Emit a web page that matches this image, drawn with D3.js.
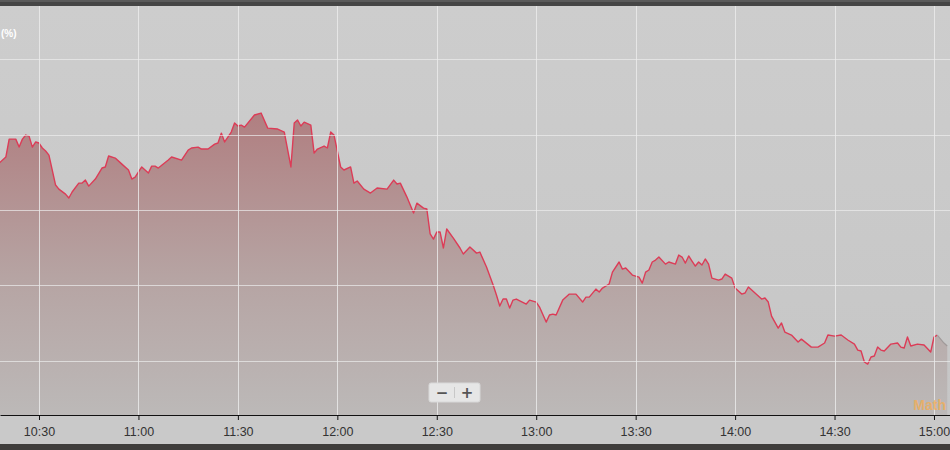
<!DOCTYPE html>
<html>
<head>
<meta charset="utf-8">
<script src="https://cdn.jsdelivr.net/npm/d3@7/dist/d3.min.js"></script>
<style>
  html, body { margin: 0; padding: 0; background: #c9c9c9; }
  svg { display: block; }
</style>
</head>
<body>
<svg id="chart" width="950" height="450"></svg>
<script>
// ---- data ----
const times = ["10:18","10:20","10:21","10:23","10:24","10:25","10:26","10:27","10:28","10:29",
  "10:30","10:31","10:32","10:33","10:35","10:36","10:38","10:39","10:40","10:42",
  "10:43","10:44","10:45","10:47","10:49","10:50","10:51","10:53","10:55","10:57",
  "10:58","10:59","11:01","11:03","11:04","11:05","11:06","11:09","11:10","11:13",
  "11:15","11:16","11:18","11:19","11:21","11:23","11:24","11:25","11:26","11:28",
  "11:29","11:30","11:31","11:32","11:35","11:37","11:39","11:42","11:44","11:46",
  "11:47","11:48","11:49","11:50","11:52","11:53","11:54","11:56","11:57","11:58",
  "11:59","12:01","12:02","12:04","12:05","12:06","12:08","12:10","12:12","12:15",
  "12:17","12:18","12:19","12:21","12:23","12:24","12:26","12:27","12:28","12:29",
  "12:30","12:31","12:32","12:33","12:35","12:37","12:38","12:40","12:42","12:43",
  "12:45","12:47","12:48","12:49","12:50","12:51","12:52","12:53","12:54","12:57",
  "12:58","13:00","13:01","13:03","13:04","13:05","13:06","13:08","13:10","13:12",
  "13:14","13:15","13:16","13:18","13:19","13:20","13:22","13:23","13:25","13:26",
  "13:27","13:29","13:31","13:32","13:33","13:34","13:35","13:36","13:37","13:39",
  "13:40","13:42","13:43","13:44","13:45","13:46","13:47","13:48","13:49","13:50",
  "13:51","13:52","13:53","13:55","13:56","13:57","13:59","14:00","14:02","14:03",
  "14:04","14:06","14:08","14:09","14:10","14:11","14:13","14:14","14:15","14:17",
  "14:19","14:20","14:23","14:25","14:27","14:28","14:30","14:32","14:34","14:36",
  "14:37","14:38","14:39","14:40","14:41","14:42","14:43","14:44","14:45","14:47",
  "14:49","14:50","14:51","14:52","14:53","14:55","14:57","14:59","15:00","15:01"];
const changePct = [0.312,0.352,0.471,0.471,0.418,0.471,0.498,0.491,0.418,0.452,
  0.445,0.412,0.392,0.365,0.166,0.139,0.106,0.080,0.120,0.179,
  0.179,0.199,0.159,0.206,0.279,0.286,0.359,0.345,0.305,0.266,
  0.206,0.219,0.286,0.246,0.292,0.292,0.279,0.332,0.352,0.332,
  0.398,0.412,0.418,0.405,0.405,0.438,0.445,0.511,0.452,0.518,
  0.578,0.558,0.564,0.551,0.631,0.644,0.544,0.538,0.518,0.286,
  0.578,0.598,0.558,0.584,0.564,0.378,0.405,0.425,0.412,0.518,
  0.498,0.286,0.266,0.286,0.179,0.193,0.139,0.113,0.146,0.139,
  0.199,0.173,0.179,0.086,-0.020,0.046,0.013,0.007,-0.159,-0.193,
  -0.146,-0.146,-0.252,-0.126,-0.186,-0.252,-0.292,-0.246,-0.286,-0.279,
  -0.378,-0.498,-0.564,-0.637,-0.591,-0.591,-0.651,-0.598,-0.591,-0.624,
  -0.598,-0.611,-0.644,-0.744,-0.697,-0.691,-0.697,-0.598,-0.558,-0.558,
  -0.611,-0.578,-0.578,-0.525,-0.544,-0.518,-0.491,-0.412,-0.345,-0.392,
  -0.385,-0.432,-0.445,-0.485,-0.412,-0.398,-0.345,-0.332,-0.312,-0.359,
  -0.345,-0.359,-0.299,-0.312,-0.352,-0.305,-0.339,-0.372,-0.345,-0.365,
  -0.325,-0.359,-0.452,-0.465,-0.458,-0.425,-0.452,-0.518,-0.558,-0.551,
  -0.511,-0.551,-0.591,-0.584,-0.611,-0.704,-0.784,-0.750,-0.810,-0.830,
  -0.876,-0.857,-0.910,-0.910,-0.883,-0.830,-0.837,-0.830,-0.863,-0.890,
  -0.930,-0.936,-1.009,-1.023,-0.976,-0.969,-0.910,-0.930,-0.936,-0.890,
  -0.883,-0.910,-0.916,-0.843,-0.903,-0.890,-0.896,-0.943,-0.843,-0.830];
// trailing (greyed) part after the close
const tailTimes = ["15:01","15:03","15:04"];
const tailPct = [-0.830,-0.883,-0.903];
const tickLabels = ["10:30","11:00","11:30","12:00","12:30","13:00","13:30","14:00","14:30","15:00"];
const gridValues = [-1.0,-0.5,0,0.5,1.0];

// ---- helpers ----
const toMin = s => { const [h,m] = s.split(":").map(Number); return h*60+m; };
const data = times.map((t,i) => ({m: toMin(t), v: changePct[i]}));
const tail = tailTimes.map((t,i) => ({m: toMin(t), v: tailPct[i]}));

const W = 950, H = 450;
const plotTop = 6, axisY = 415;
const svg = d3.select("#chart");

const x = d3.scaleLinear().domain([618.235, 904.83]).range([0, W]);
const y = d3.scaleLinear().domain([-1.361, 1.355]).range([axisY, plotTop]);

const defs = svg.append("defs");
const bg = defs.append("linearGradient").attr("id","bg").attr("x1",0).attr("y1",0).attr("x2",0).attr("y2",1);
bg.append("stop").attr("offset","0%").attr("stop-color","#cdcdcd");
bg.append("stop").attr("offset","100%").attr("stop-color","#c6c6c6");
const ag = defs.append("linearGradient").attr("id","areaGrad").attr("gradientUnits","userSpaceOnUse")
  .attr("x1",0).attr("y1",110).attr("x2",0).attr("y2",axisY);
ag.append("stop").attr("offset","0%").attr("stop-color","#b07e80");
ag.append("stop").attr("offset","55%").attr("stop-color","#b6a4a3");
ag.append("stop").attr("offset","100%").attr("stop-color","#bcb9b8");
defs.append("clipPath").attr("id","plotClip").append("rect")
  .attr("x",0).attr("y",plotTop).attr("width",W).attr("height",axisY-plotTop);

// background
svg.append("rect").attr("x",0).attr("y",0).attr("width",W).attr("height",H).attr("fill","#c9c9c9");
svg.append("rect").attr("x",0).attr("y",plotTop).attr("width",W).attr("height",axisY-plotTop).attr("fill","url(#bg)");
// top dark bar
svg.append("rect").attr("x",0).attr("y",0).attr("width",W).attr("height",plotTop).attr("fill","#454545");
svg.append("rect").attr("x",0).attr("y",0).attr("width",W).attr("height",2).attr("fill","#5a5a5a");
// bottom dark band
svg.append("rect").attr("x",0).attr("y",444).attr("width",W).attr("height",6).attr("fill","#3f3d3b");

// area + lines
const plot = svg.append("g").attr("clip-path","url(#plotClip)");
const all = data.concat(tail.slice(1));
plot.append("path").datum(all)
  .attr("fill","url(#areaGrad)")
  .attr("d", d3.area().x(d=>x(d.m)).y0(axisY).y1(d=>y(d.v)));

// grid
const grid = svg.append("g");
grid.selectAll("line.h").data(gridValues).join("line")
  .attr("x1",0).attr("x2",W).attr("y1",d=>Math.round(y(d))+0.5).attr("y2",d=>Math.round(y(d))+0.5)
  .attr("stroke","#ececec").attr("stroke-opacity",0.7).attr("stroke-width",1);
grid.selectAll("line.v").data(tickLabels).join("line")
  .attr("x1",d=>Math.round(x(toMin(d)))+0.5).attr("x2",d=>Math.round(x(toMin(d)))+0.5)
  .attr("y1",plotTop).attr("y2",axisY)
  .attr("stroke","#ececec").attr("stroke-opacity",0.8).attr("stroke-width",1);

plot.append("path").datum(data)
  .attr("fill","none").attr("stroke","#dc3c57").attr("stroke-width",1.4).attr("stroke-linejoin","round")
  .attr("d", d3.line().x(d=>x(d.m)).y(d=>y(d.v)));
plot.append("path").datum(tail)
  .attr("fill","none").attr("stroke","#a09a9a").attr("stroke-width",1.2)
  .attr("d", d3.line().x(d=>x(d.m)).y(d=>y(d.v)));

// x axis
const xAxis = d3.axisBottom(x)
  .tickValues(tickLabels.map(toMin))
  .tickFormat((d,i)=>tickLabels[i])
  .tickSize(5).tickSizeOuter(0);
const ax = svg.append("g").attr("transform",`translate(0,${axisY})`).call(xAxis);
ax.select(".domain").attr("stroke","#111").attr("stroke-width",1.2);
ax.selectAll(".tick line").attr("stroke","#111");
ax.selectAll(".tick text").attr("fill","#333").attr("font-family","Liberation Sans, Arial, sans-serif")
  .attr("font-size","12.5px").attr("dy","1.05em");

// unit label
svg.append("text").attr("x",1).attr("y",37).text("(%)")
  .attr("fill","#ffffff").attr("font-family","Liberation Sans, Arial, sans-serif")
  .attr("font-size","10px").attr("font-weight","bold");

// zoom buttons
const zb = svg.append("g").attr("transform","translate(429,383)");
zb.append("rect").attr("width",51).attr("height",19).attr("rx",2).attr("fill","#e6e6e6").attr("stroke","#d8d8d8");
zb.append("line").attr("x1",25.5).attr("x2",25.5).attr("y1",4).attr("y2",15).attr("stroke","#c8c8c8");
zb.append("text").attr("x",13).attr("y",14.5).attr("text-anchor","middle").text("−")
  .attr("fill","#555").attr("font-family","DejaVu Sans, sans-serif").attr("font-size","15px").attr("font-weight","bold");
zb.append("text").attr("x",38).attr("y",14.5).attr("text-anchor","middle").text("+")
  .attr("fill","#555").attr("font-family","DejaVu Sans, sans-serif").attr("font-size","15px").attr("font-weight","bold");

// watermark
svg.append("text").attr("x",946).attr("y",410).attr("text-anchor","end").text("Math")
  .attr("fill","#f2ad55").attr("fill-opacity",0.8).attr("font-family","Liberation Sans, Arial, sans-serif")
  .attr("font-size","14px").attr("font-weight","bold");
</script>
</body>
</html>
